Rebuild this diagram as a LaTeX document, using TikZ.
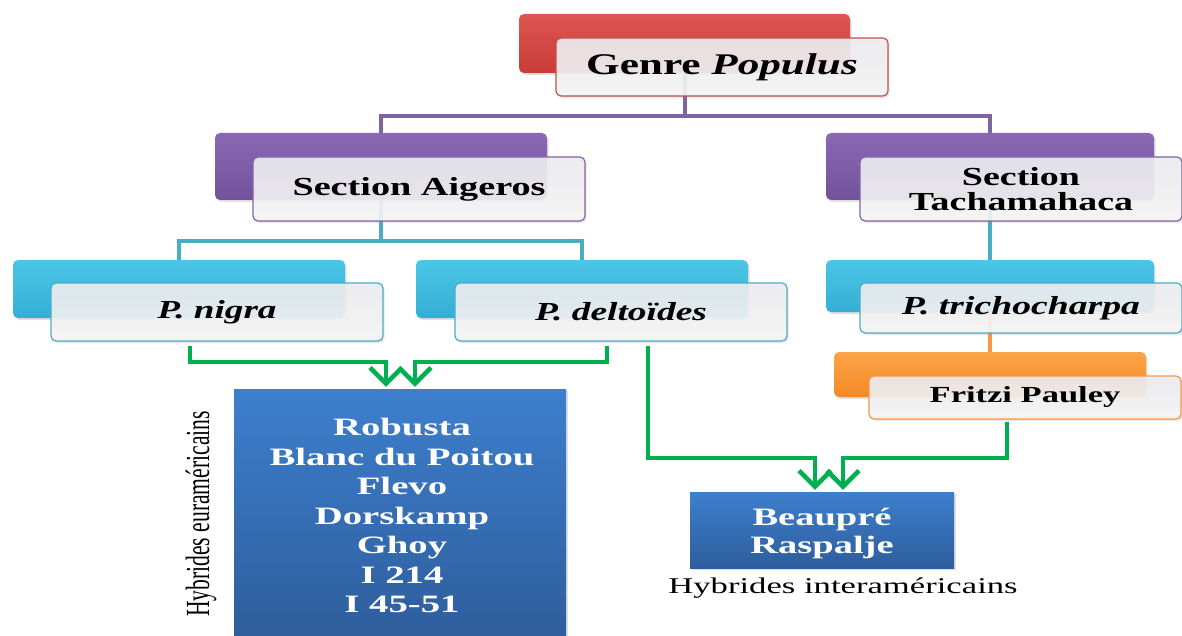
\documentclass[tikz,border=0pt]{standalone}
\usepackage{fontspec}
\setmainfont{Liberation Serif}
\usepackage{graphicx}
\usetikzlibrary{calc,arrows.meta,shadows}
\pgfdeclarelayer{bg}
\pgfsetlayers{bg,main}
\definecolor{redT}{HTML}{DE5552}
\definecolor{redB}{HTML}{C93C38}
\definecolor{redL}{HTML}{C0504D}
\definecolor{purT}{HTML}{8A68B3}
\definecolor{purB}{HTML}{73529C}
\definecolor{purL}{HTML}{8064A2}
\definecolor{cyaT}{HTML}{4CC6E6}
\definecolor{cyaB}{HTML}{35AED4}
\definecolor{cyaL}{HTML}{4BACC6}
\definecolor{oraT}{HTML}{FCA448}
\definecolor{oraB}{HTML}{F28A25}
\definecolor{oraL}{HTML}{F79646}
\definecolor{bluT}{HTML}{3D7FCD}
\definecolor{bluB}{HTML}{2E5D9C}
\definecolor{grn}{HTML}{00B050}
\definecolor{frT}{HTML}{EDEDF0}
\definecolor{frB}{HTML}{F6F6F6}
\newcommand\sx[2]{\scalebox{#1}[1]{#2}}
\begin{document}
\begin{tikzpicture}[x=1pt,y=-1pt,
  backbox/.style={rectangle, rounded corners=5pt, inner sep=0pt,
    drop shadow={opacity=0.25, shadow xshift=1.5pt, shadow yshift=-2pt}},
  frontbox/.style={rectangle, rounded corners=5pt, inner sep=0pt, line width=1.2pt,
    top color=frT, bottom color=frB, fill opacity=0.9, text opacity=1,
    drop shadow={opacity=0.2, shadow xshift=1.5pt, shadow yshift=-2pt}},
  bluebox/.style={rectangle, inner sep=0pt, top color=bluT, bottom color=bluB,
    drop shadow={opacity=0.25, shadow xshift=1.5pt, shadow yshift=-2pt}},
  conn/.style={line width=4pt},
  gline/.style={draw=grn, line width=4.5pt, line join=miter,
    -{Straight Barb[length=16pt,width=32pt]}},
  whitetxt/.style={text=white, font=\fontsize{25}{29.5}\selectfont\bfseries, align=center},
]
\useasboundingbox (0,0) rectangle (1182,636);

% Genre
\node[backbox, top color=redT, bottom color=redB, minimum width=331pt, minimum height=59pt] (genreB) at (684.5,43.5) {};
\node[frontbox, draw=redL, minimum width=332pt, minimum height=58pt] (genreF) at (722,67)
  {\fontsize{30}{36}\selectfont\bfseries\sx{1.44}{Genre \textit{Populus}}};

% Sections
\node[backbox, top color=purT, bottom color=purB, minimum width=332pt, minimum height=67pt] (aigB) at (381,166.5) {};
\node[frontbox, draw=purL, minimum width=332pt, minimum height=64pt] (aigF) at (419,189)
  {\fontsize{26}{31}\selectfont\bfseries\sx{1.47}{Section Aigeros}};
\node[backbox, top color=purT, bottom color=purB, minimum width=328pt, minimum height=67pt] (tacB) at (990,166.5) {};
\node[frontbox, draw=purL, minimum width=322pt, minimum height=64pt, align=center,
  font=\fontsize{26}{25}\selectfont\bfseries] (tacF) at (1021,189)
  {\sx{1.46}{Section}\\\sx{1.46}{Tachamahaca}};

% Species
\node[backbox, top color=cyaT, bottom color=cyaB, minimum width=332pt, minimum height=58pt] (nigB) at (179,289) {};
\node[frontbox, draw=cyaL, minimum width=332pt, minimum height=58pt] (nigF) at (217,312)
  {\fontsize{26}{31}\selectfont\bfseries\itshape\sx{1.43}{P. nigra}};
\node[backbox, top color=cyaT, bottom color=cyaB, minimum width=332pt, minimum height=58pt] (delB) at (582,289) {};
\node[frontbox, draw=cyaL, minimum width=332pt, minimum height=58pt] (delF) at (621,312)
  {\fontsize{26}{31}\selectfont\bfseries\itshape\sx{1.44}{P. deltoïdes}};
\node[backbox, top color=cyaT, bottom color=cyaB, minimum width=328pt, minimum height=52pt] (triB) at (990,286) {};
\node[frontbox, draw=cyaL, minimum width=322pt, minimum height=50pt] (triF) at (1021,308)
  {\fontsize{26}{31}\selectfont\bfseries\itshape\sx{1.45}{P. trichocharpa}};

% Fritzi Pauley
\node[backbox, top color=oraT, bottom color=oraB, minimum width=312pt, minimum height=45pt] (friB) at (990,374.5) {};
\node[frontbox, draw=oraL, minimum width=312pt, minimum height=43pt] (friF) at (1025,397.5)
  {\fontsize{23}{28}\selectfont\bfseries\sx{1.5}{Fritzi Pauley}};

% Hybrid boxes
\node[bluebox, minimum width=332pt, minimum height=250pt] (hyb1) at (400,514) {};
\node[whitetxt] (hyb1t) at (402,515.5)
  {\sx{1.55}{Robusta}\\\sx{1.55}{Blanc du Poitou}\\\sx{1.55}{Flevo}\\\sx{1.55}{Dorskamp}\\\sx{1.55}{Ghoy}\\\sx{1.55}{I 214}\\\sx{1.55}{I 45-51}};
\node[rotate=90, font=\fontsize{22.5}{27}\selectfont, inner sep=0pt] (lab1) at (201,514)
  {\scalebox{0.96}[1.5]{Hybrides euraméricains}};

\node[bluebox, minimum width=264pt, minimum height=76pt] (beau) at (822,530) {};
\node[whitetxt, font=\fontsize{25}{28}\selectfont\bfseries] (beaut) at (822,533)
  {\sx{1.54}{Beaupré}\\\sx{1.54}{Raspalje}};
\node[font=\fontsize{22.5}{27}\selectfont, inner sep=0pt] (lab2) at (843,588)
  {\sx{1.54}{Hybrides interaméricains}};

% Connectors
\begin{pgfonlayer}{bg}
  \coordinate (pj) at ($(genreB.center)+(0,72.5)$);
  \draw[conn, draw=purL] (genreB.center) -- (pj);
  \draw[conn, draw=purL] (aigB.center) |- (pj) -| (tacB.center);
  \coordinate (cj) at ($(aigB.center)+(0,74.5)$);
  \draw[conn, draw=cyaL] (aigB.center) -- (cj);
  \draw[conn, draw=cyaL] (nigB.center) |- (cj) -| (delB.center);
  \draw[conn, draw=cyaL] (tacB.center) -- (triB.center);
  \draw[conn, draw=oraL] (triB.center) -- (friB.center);
\end{pgfonlayer}

\coordinate (g1s) at ($(nigF.south)+(-27,4)$);
\coordinate (g1e) at ($(hyb1.north)+(-14,-2)$);
\coordinate (g2s) at ($(delF.south)+(-14,4)$);
\coordinate (g2e) at ($(hyb1.north)+(15,-2)$);
\coordinate (g3s) at ($(delF.south)+(27,4)$);
\coordinate (g3e) at ($(beau.north)+(-7,-2)$);
\coordinate (g4s) at ($(friF.south)+(-18,2)$);
\coordinate (g4e) at ($(beau.north)+(21,-2)$);
\draw[gline] (g1s) |- ($(g1e)+(0,-25)$) -- (g1e);
\draw[gline] (g2s) |- ($(g2e)+(0,-25)$) -- (g2e);
\draw[gline] (g3s) |- ($(g3e)+(0,-32)$) -- (g3e);
\draw[gline] (g4s) |- ($(g4e)+(0,-32)$) -- (g4e);
\end{tikzpicture}
\end{document}
